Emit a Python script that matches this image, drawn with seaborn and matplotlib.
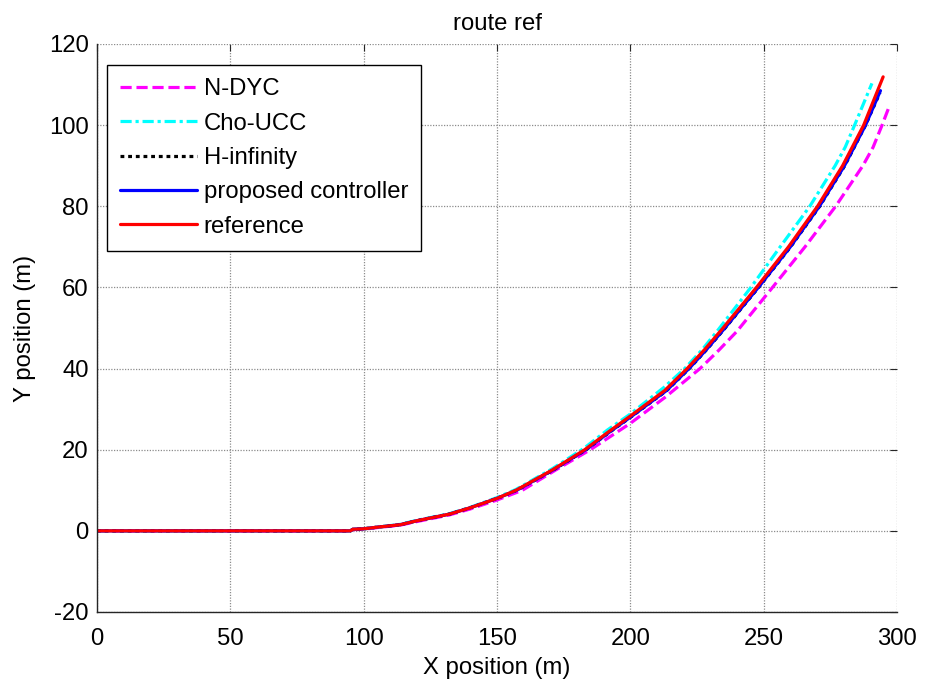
import matplotlib
matplotlib.use("Agg")
import matplotlib.pyplot as plt
import seaborn as sns

# Trajectories (X, Y in metres) of each controller and the reference route
x_ndyc = [0, 95, 96, 100, 105, 113.6, 120, 132, 140, 150, 159.5, 172, 185, 200, 213, 226.3, 233, 240, 252.7, 265.5, 277, 287.2, 291, 294.4, 296.9]
y_ndyc = [0, 0, 0.3, 0.4, 0.8, 1.4, 2.3, 3.9, 5.4, 7.6, 10.0, 15.0, 20.0, 26.5, 32.9, 40.1, 44.4, 49.2, 59.5, 70, 80, 90, 94.5, 100, 104.3]

x_cho = [0, 95, 96, 100, 105, 113.6, 120, 132, 140, 150, 157.1, 170.7, 182.5, 191.5, 200, 212.5, 220.4, 227, 233, 245.2, 256.2, 267.3, 276.8, 280.6, 284.1, 290.6]
y_cho = [0, 0, 0.4, 0.5, 0.9, 1.6, 2.6, 4.2, 5.8, 8.2, 10.2, 15.3, 20.3, 24.9, 28.8, 35.3, 40, 44.7, 49.6, 60, 70, 80, 90, 94.6, 100, 110.3]

x_hinf = [0, 95, 96, 100, 105, 113.6, 120, 132, 140, 150, 157.4, 171.1, 183.4, 192.4, 200.7, 213.7, 222.1, 228.8, 235.3, 248.1, 260.1, 271.0, 280.4, 288.2, 293.6]
y_hinf = [0, 0, 0.4, 0.5, 0.9, 1.5, 2.5, 4.1, 5.7, 8.0, 10.0, 15.0, 20.0, 24.4, 28.3, 34.6, 40, 44.8, 49.8, 60, 70, 80, 90, 100, 108.0]

x_prop = [0, 95, 96, 100, 105, 113.6, 120, 132, 140, 150, 157.4, 171.0, 183.3, 192.3, 200.6, 213.6, 222.0, 228.7, 235.2, 248.0, 260.0, 270.9, 280.3, 288.2, 293.8]
y_prop = [0, 0, 0.4, 0.5, 0.9, 1.5, 2.5, 4.1, 5.7, 8.0, 10.0, 15.0, 20.0, 24.4, 28.3, 34.6, 40, 44.8, 49.8, 60, 70, 80, 90, 100, 108.5]

x_ref = [0, 95, 96, 100, 105, 113.6, 120, 132, 140, 150, 157.1, 170.7, 182.9, 191.8, 200, 212.9, 221.3, 228, 234.5, 247.3, 259.3, 270.2, 279.6, 287.5, 294.8]
y_ref = [0, 0, 0.4, 0.5, 0.9, 1.5, 2.5, 4.1, 5.7, 8.0, 10.0, 15.0, 20.0, 24.4, 28.3, 34.6, 40, 44.8, 49.8, 60, 70, 80, 90, 100, 111.9]

labels = ["N-DYC", "Cho-UCC", "H-infinity", "proposed controller", "reference"]
x_ticks = [0, 50, 100, 150, 200, 250, 300]
y_ticks = [-20, 0, 20, 40, 60, 80, 100, 120]

sns.set_style("white")
plt.rcParams["font.family"] = ["Liberation Sans", "DejaVu Sans"]
plt.rcParams.update({
    "font.size": 17.2,
    "text.color": "black",
    "axes.labelcolor": "black",
    "xtick.color": "black",
    "ytick.color": "black",
    "axes.unicode_minus": False,
})

fig = plt.figure(figsize=(9.25, 6.88), dpi=100)
ax = fig.add_axes([97 / 925, 76 / 688, 800 / 925, 568 / 688])

series = [
    (x_ndyc, y_ndyc, "#ff00ff", (0, (3.5, 1.5))),
    (x_cho, y_cho, "#00ffff", (0, (3.5, 1.2, 1.0, 1.2))),
    (x_hinf, y_hinf, "#000000", (0, (1.2, 1.2))),
    (x_prop, y_prop, "#0000ff", "-"),
    (x_ref, y_ref, "#ff0000", "-"),
]
for (xs, ys, col, ls), lab in zip(series, labels):
    sns.lineplot(x=xs, y=ys, ax=ax, sort=False, estimator=None,
                 color=col, linestyle=ls, linewidth=2.3, label=lab)

ax.set_xlim(0, 300)
ax.set_ylim(-20, 120)
ax.set_xticks(x_ticks)
ax.set_yticks(y_ticks)

ax.grid(True, color="#8c8c8c", linestyle=(0, (1, 1.2)), linewidth=0.9)
ax.set_axisbelow(True)
for side in ["top", "right"]:
    ax.spines[side].set_visible(False)
for side in ["left", "bottom"]:
    ax.spines[side].set_color("#262626")
    ax.spines[side].set_linewidth(1.0)

ax.tick_params(axis="both", direction="in", length=5, width=0.8,
               color="#262626", labelsize=17.2, top=True, right=True)
ax.tick_params(axis="x", pad=11.5)
ax.tick_params(axis="y", pad=6)

ax.set_title("route ref", fontsize=17.2, pad=10)
ax.set_xlabel("X position (m)", fontsize=17.2, labelpad=5)
ax.set_ylabel("Y position (m)", fontsize=17.2, labelpad=9)

leg = ax.legend(loc="upper left", bbox_to_anchor=(10 / 800, 1 - 21 / 568),
                borderaxespad=0, fontsize=17.2, handlelength=3.2,
                handletextpad=0.3, labelspacing=0.52, borderpad=0.55,
                fancybox=False, framealpha=1, edgecolor="black")
leg.get_frame().set_linewidth(1.0)

fig.savefig("out.png", dpi=100)
